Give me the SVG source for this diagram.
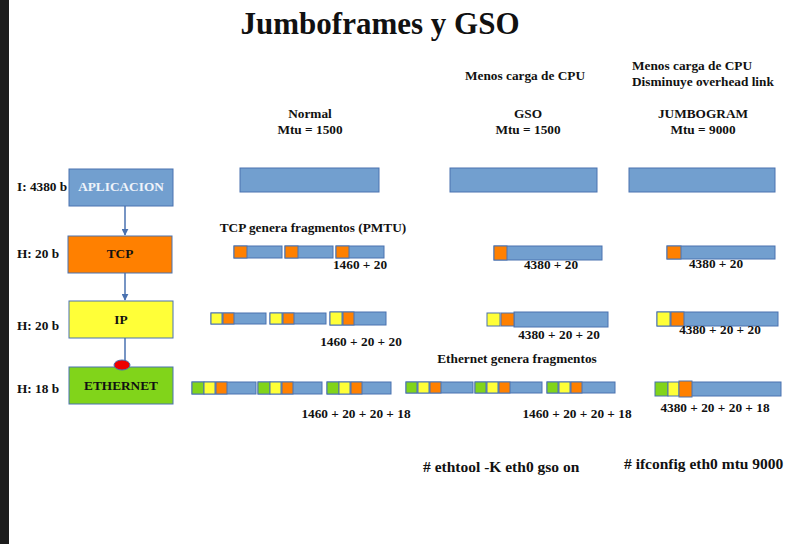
<svg xmlns="http://www.w3.org/2000/svg" width="798" height="544" viewBox="0 0 798 544">
<defs>
<style>
text{font-family:"Liberation Serif","Times New Roman",serif;font-weight:bold;fill:#111}
.t{font-size:13.3px}
.m{text-anchor:middle}
.b{fill:#729fcf;stroke:#4a72b0;stroke-width:1}
.o{fill:#ff8000;stroke:#4a72b0;stroke-width:1}
.y{fill:#ffff38;stroke:#4a72b0;stroke-width:1}
.g{fill:#81d41a;stroke:#4a72b0;stroke-width:1}
.c{stroke:#4a72b0;stroke-width:1.5;fill:none}
</style>
<marker id="ah" viewBox="0 0 10 10" refX="9" refY="5" markerWidth="7" markerHeight="7" orient="auto" markerUnits="userSpaceOnUse">
<path d="M0,0 L10,5 L0,10 z" fill="#4a72b0"/>
</marker>
</defs>
<rect x="0" y="0" width="798" height="544" fill="#ffffff"/>
<rect x="0" y="0" width="9" height="544" fill="#1c1c1c"/>

<text x="380" y="34" class="m" style="font-size:31px">Jumboframes y GSO</text>

<g id="headers">
<text x="310" y="118" class="t m">Normal</text>
<text x="310" y="134" class="t m">Mtu = 1500</text>
<text x="525" y="80" class="t m">Menos carga de CPU</text>
<text x="528" y="118" class="t m">GSO</text>
<text x="528" y="134" class="t m">Mtu = 1500</text>
<text x="632" y="70" class="t">Menos carga de CPU</text>
<text x="632" y="86" class="t">Disminuye overhead link</text>
<text x="703" y="118" class="t m">JUMBOGRAM</text>
<text x="703" y="134" class="t m">Mtu = 9000</text>
</g>

<g id="labels">
<text x="17" y="191" class="t">I: 4380 b</text>
<text x="17" y="258" class="t">H: 20 b</text>
<text x="17" y="330" class="t">H: 20 b</text>
<text x="17" y="393" class="t">H: 18 b</text>
</g>

<g id="connectors">
<line x1="125" y1="206" x2="125" y2="235" class="c" marker-end="url(#ah)"/>
<line x1="125" y1="273" x2="125" y2="300" class="c" marker-end="url(#ah)"/>
<line x1="125" y1="338" x2="125" y2="362" class="c"/>
</g>

<g id="aplicacion">
<rect x="69" y="169" width="104" height="37" class="b"/>
<text x="121" y="191" class="t m" style="fill:#eef3fa">APLICACION</text>
</g>
<g id="tcp">
<rect x="68" y="236" width="104" height="37" class="o"/>
<text x="120" y="258" class="t m">TCP</text>
</g>
<g id="ip">
<rect x="69" y="301" width="104" height="37" class="y"/>
<text x="121" y="324" class="t m">IP</text>
</g>
<g id="ethernet">
<rect x="69" y="367" width="104" height="37" class="g"/>
<text x="121" y="390" class="t m">ETHERNET</text>
<ellipse cx="122" cy="365" rx="8" ry="5" fill="#ee0000" stroke="#4a72b0" stroke-width="1"/>
</g>

<g id="app-data">
<rect x="240" y="168" width="139" height="24" class="b"/>
<rect x="450" y="168" width="147" height="24" class="b"/>
<rect x="629" y="168" width="146" height="24" class="b"/>
</g>

<g id="normal">
<text x="313" y="232" class="t m">TCP genera fragmentos (PMTU)</text>
<rect x="234" y="246" width="48" height="12" class="b"/><rect x="234" y="246" width="13" height="12" class="o"/>
<rect x="285" y="246" width="48" height="12" class="b"/><rect x="285" y="246" width="13" height="12" class="o"/>
<rect x="336" y="246" width="48" height="12" class="b"/><rect x="336" y="246" width="13" height="12" class="o"/>
<text x="360" y="269" class="t m">1460 + 20</text>

<rect x="211" y="313" width="55" height="11" class="b"/><rect x="211" y="313" width="11" height="11" class="y"/><rect x="223" y="313" width="11" height="11" class="o"/>
<rect x="270" y="313" width="56" height="11" class="b"/><rect x="270" y="313" width="12" height="11" class="y"/><rect x="283" y="313" width="11" height="11" class="o"/>
<rect x="330" y="312" width="56" height="13" class="b"/><rect x="330" y="312" width="12" height="13" class="y"/><rect x="343" y="312" width="11" height="13" class="o"/>
<text x="361" y="346" class="t m">1460 + 20 + 20</text>

<rect x="192" y="382" width="64" height="12" class="b"/><rect x="192" y="382" width="12" height="12" class="g"/><rect x="204" y="382" width="11" height="12" class="y"/><rect x="216" y="382" width="11" height="12" class="o"/>
<rect x="258" y="382" width="64" height="12" class="b"/><rect x="258" y="382" width="12" height="12" class="g"/><rect x="270" y="382" width="11" height="12" class="y"/><rect x="282" y="382" width="11" height="12" class="o"/>
<rect x="327" y="382" width="64" height="12" class="b"/><rect x="327" y="382" width="12" height="12" class="g"/><rect x="339" y="382" width="11" height="12" class="y"/><rect x="351" y="382" width="11" height="12" class="o"/>
<text x="356" y="418" class="t m">1460 + 20 + 20 + 18</text>
</g>

<g id="gso">
<rect x="494" y="246" width="108" height="14" class="b"/><rect x="494" y="246" width="13" height="14" class="o"/>
<text x="551" y="269" class="t m">4380 + 20</text>

<rect x="514" y="312" width="94" height="15" class="b"/><rect x="487" y="313" width="13" height="13" class="y"/><rect x="501" y="313" width="13" height="13" class="o"/>
<text x="559" y="339" class="t m">4380 + 20 + 20</text>

<text x="517" y="363" class="t m">Ethernet genera fragmentos</text>
<rect x="406" y="382" width="67" height="11" class="b"/><rect x="406" y="382" width="11" height="11" class="g"/><rect x="418" y="382" width="11" height="11" class="y"/><rect x="430" y="382" width="11" height="11" class="o"/>
<rect x="475" y="382" width="67" height="11" class="b"/><rect x="475" y="382" width="11" height="11" class="g"/><rect x="487" y="382" width="11" height="11" class="y"/><rect x="499" y="382" width="11" height="11" class="o"/>
<rect x="547" y="382" width="68" height="11" class="b"/><rect x="547" y="382" width="11" height="11" class="g"/><rect x="559" y="382" width="11" height="11" class="y"/><rect x="571" y="382" width="11" height="11" class="o"/>
<text x="577" y="418" class="t m">1460 + 20 + 20 + 18</text>
</g>

<g id="jumbo">
<rect x="667" y="246" width="108" height="13" class="b"/><rect x="667" y="246" width="14" height="13" class="o"/>
<text x="716" y="268" class="t m">4380 + 20</text>

<rect x="657" y="312" width="121" height="14" class="b"/><rect x="657" y="312" width="13" height="14" class="y"/><rect x="671" y="312" width="13" height="14" class="o"/>
<text x="720" y="334" class="t m">4380 + 20 + 20</text>

<rect x="690" y="382" width="91" height="14" class="b"/><rect x="655" y="382" width="13" height="14" class="g"/><rect x="668" y="382" width="11" height="14" class="y"/><rect x="679" y="381" width="13" height="16" class="o"/>
<text x="715" y="412" class="t m">4380 + 20 + 20 + 18</text>
</g>

<g id="commands">
<text x="423" y="472" class="t" style="font-size:15.5px"># ethtool -K eth0 gso on</text>
<text x="624" y="469" class="t" style="font-size:15.5px"># ifconfig eth0 mtu 9000</text>
</g>
</svg>
